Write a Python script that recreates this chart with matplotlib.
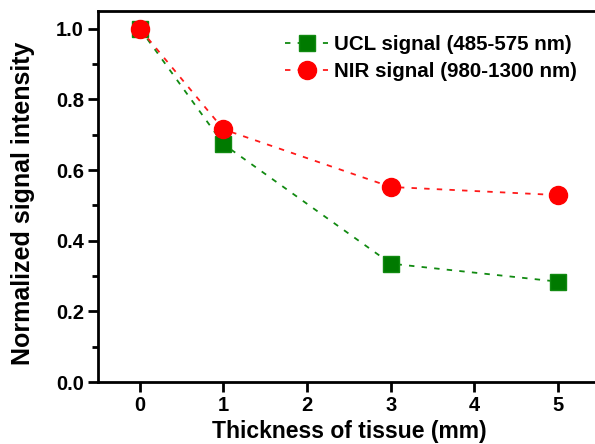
import matplotlib
matplotlib.use('Agg')
from matplotlib import pyplot as plt
from matplotlib.ticker import MultipleLocator

plt.rcParams['font.family'] = 'Liberation Sans'
plt.rcParams['font.weight'] = 'bold'

thickness = [0, 1, 3, 5]
ucl = [1.0, 0.673, 0.335, 0.284]
nir = [1.0, 0.715, 0.552, 0.529]
ucl_label = 'UCL signal (485-575 nm)'
nir_label = 'NIR signal (980-1300 nm)'

fig = plt.figure(figsize=(5.95, 4.44), dpi=100)
ax = fig.add_axes([98/595, 1 - 382/444, 502/595, 371/444])

ax.plot(thickness, ucl, ls=(0, (3, 4)), lw=1.3, color='#118a11', marker='s',
        ms=11, mfc='#007a00', mec='#118a11', label=ucl_label, zorder=2)
ax.plot(thickness, nir, ls=(0, (3, 4)), lw=1.3, color='#ff1a1a', marker='o',
        ms=13, mfc='#ff0000', mec='#ff0000', label=nir_label, zorder=3)

ax.set_xlim(-0.5, 5.5)
ax.set_ylim(0, 1.05)
ax.set_xticks(range(6))
ax.yaxis.set_minor_locator(MultipleLocator(0.1))
ax.set_yticks([0, 0.2, 0.4, 0.6, 0.8, 1.0])
ax.set_yticklabels(['0.0', '0.2', '0.4', '0.6', '0.8', '1.0'])

for s in ax.spines.values():
    s.set_linewidth(2)
ax.tick_params(which='major', direction='out', length=7, width=2, labelsize=14.5, pad=3)
ax.tick_params(which='minor', direction='out', length=4.5, width=2)

ax.set_xlabel('Thickness of tissue (mm)', fontsize=16.5, fontweight='bold', labelpad=3.5)
ax.set_ylabel('Normalized signal intensity', fontsize=18, fontweight='bold')
ax.yaxis.set_label_coords(-0.125, 0.481)

leg = ax.legend(loc='upper right', bbox_to_anchor=(0.99, 0.985), frameon=False,
                handlelength=2.1, handletextpad=0.25, labelspacing=0.38,
                prop={'weight': 'bold', 'size': 14.8})

fig.savefig('out.png', dpi=100)
